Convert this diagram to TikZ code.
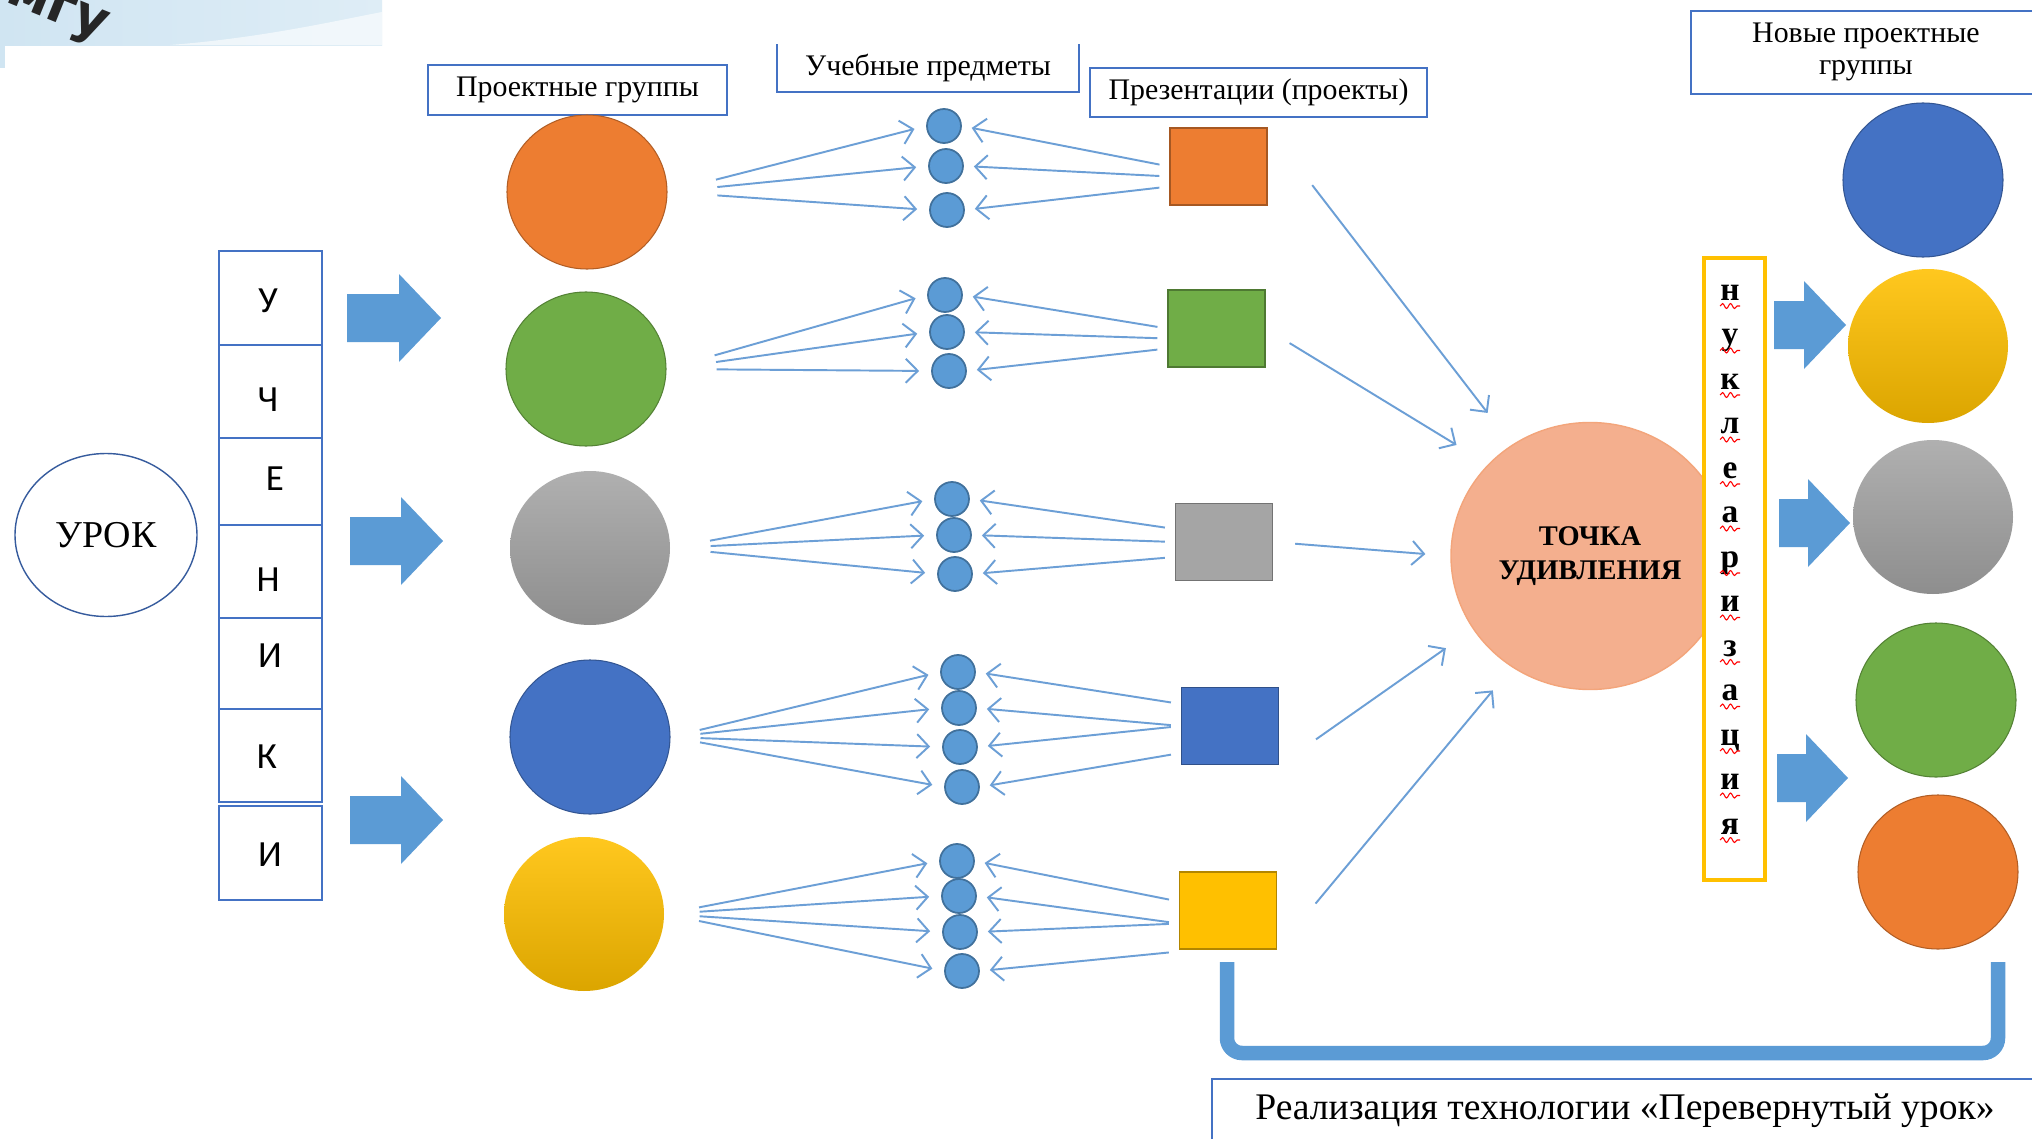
\documentclass[tikz,border=0pt]{standalone}
\usepackage{fontspec}
\setmainfont{Liberation Serif}
\newfontfamily\calibrifont{Carlito}
\newfontfamily\logofont{DejaVu Sans}
\usetikzlibrary{arrows.meta,shapes.geometric,decorations.pathmorphing}
\definecolor{boxblue}{HTML}{4472C4}
\definecolor{lineblue}{HTML}{6C9FD6}
\definecolor{dotblue}{HTML}{5B9BD5}
\definecolor{dotedge}{HTML}{41719C}
\definecolor{orangeg}{HTML}{ED7D31}
\definecolor{greeng}{HTML}{70AD47}
\definecolor{grayg}{HTML}{A5A5A5}
\definecolor{blueg}{HTML}{4472C4}
\definecolor{yellowg}{HTML}{FFC000}
\definecolor{salmon}{HTML}{F4AF8E}
\definecolor{bandblue}{HTML}{D0E5F2}
\tikzset{
  % project group bubbles
  grp/.style={ellipse,minimum width=16mm,minimum height=15.4mm,inner sep=0pt,
              fill=#1,draw=#1!75!black,line width=0.3pt},
  grpsh/.style={ellipse,minimum width=16mm,minimum height=15.4mm,inner sep=0pt,
                top color=#1!88!white,bottom color=#1!86!black,draw=none},
  % presentations
  pres/.style={rectangle,minimum width=9.7mm,minimum height=7.7mm,inner sep=0pt,
               fill=#1,draw=#1!70!black,line width=0.4pt},
  % subjects
  subj/.style={circle,minimum size=3.4mm,inner sep=0pt,fill=dotblue,draw=dotedge,
               line width=0.5pt},
  % header labels
  lbl/.style={draw=boxblue,line width=0.5pt,fill=white,inner sep=0pt,align=center,
              font=\fontsize{8.5}{9.1}\selectfont},
  % pupils column
  ubox/.style={draw=boxblue,line width=0.5pt,minimum width=10.3mm,inner sep=0pt},
  ulet/.style={font=\calibrifont\fontsize{10.5}{12}\selectfont,inner sep=0pt},
  % vertical word
  nlet/.style={font=\bfseries\fontsize{9.5}{11}\selectfont,inner sep=0pt,anchor=base},
  squig/.style={draw=red,line width=0.3pt,decorate,
                decoration={snake,amplitude=0.25mm,segment length=0.8mm}},
  % connectors
  fl/.style={-{Straight Barb[length=1.2mm,width=2.4mm]},draw=lineblue,line width=0.55pt},
  % block arrows
  pics/blockarrow/.style={code={
    \fill[dotblue] (0,-24) -- ({#1-42},-24) -- ({#1-42},-44) -- (#1,0)
                   -- ({#1-42},44) -- ({#1-42},24) -- (0,24) -- cycle;}}
}

\begin{document}
\begin{tikzpicture}[x=0.1mm,y=-0.1mm]
  \fill[white] (0,0) rectangle (2032,1139);
  \useasboundingbox (0,0) rectangle (2032,1139);

  % cropped header band
  \fill[left color=bandblue,right color=bandblue!70!white] (0,0) rectangle (382,45);
  \fill[white,opacity=0.6] (170,45) .. controls (260,38) and (330,22) .. (382,12) -- (382,45) -- cycle;
  \fill[bandblue] (0,45) rectangle (5,68);
  \begin{scope}
    \clip (0,0) rectangle (382,45);
    \node[font=\logofont\bfseries\fontsize{15}{15}\selectfont,text=black!85,rotate=-22,
          inner sep=0pt] (logo) at (56,13) {мгу};
  \end{scope}

  % header labels
  \node[lbl,minimum width=29.9mm,minimum height=5mm] (lblgroups) at (577.5,90) {Проектные группы};
  \node[lbl,draw=none,minimum width=30mm,minimum height=4.6mm] (lblsubj) at (928,68) {Учебные предметы};
  \draw[boxblue,line width=0.5pt] (lblsubj.north west) -- (lblsubj.south west)
    -- (lblsubj.south east) -- (lblsubj.north east);
  \node[lbl,minimum width=33.7mm,minimum height=4.9mm] (lblpres) at (1258.5,92.5) {Презентации (проекты)};
  \node[lbl,anchor=north west,minimum width=35mm,minimum height=8.3mm] (lblnew) at (1690,10)
    {Новые проектные\\группы};

  % lesson
  \node[ellipse,draw=boxblue!80!black,line width=0.4pt,minimum width=18.2mm,minimum height=16.3mm,
        inner sep=0pt,font=\fontsize{10.8}{12}\selectfont] (urok) at (106,535) {УРОК};

  % pupils column
  \foreach \i/\t/\b/\l/\lx/\ly in {1/251/345/У/268/301,2/345/438/Ч/268/400,3/438/525/Е/275/479,
      4/525/618/Н/268/580,5/618/709/И/270/656,6/709/802/К/267/757,7/806/900/И/270/855}{
    \node[ubox,minimum height={(\b-\t)*0.1mm}] (u\i) at (270.5,{(\t+\b)/2}) {};
    \node[ulet] (ul\i) at (\lx,\ly) {\l};
  }

  \pic at (347,318) {blockarrow=94};
  \pic at (350,541) {blockarrow=93};
  \pic at (350,820) {blockarrow=93};

  % project groups
  \node[grp=orangeg] (g1) at (587,192) {};
  \node[grp=greeng] (g2) at (586,369) {};
  \node[grpsh=grayg] (g3) at (590,548) {};
  \node[grp=blueg] (g4) at (590,737) {};
  \node[grpsh=yellowg] (g5) at (584,914) {};

  % subjects
  \foreach \r/\k/\x/\y in {1/1/944/126,1/2/946/166,1/3/947/210,
      2/1/945/295,2/2/947/332,2/3/949/371,
      3/1/952/499,3/2/954/535,3/3/955/574,
      4/1/958/672,4/2/959/708,4/3/960/747,4/4/962/787,
      5/1/957/861,5/2/959/896,5/3/960/932,5/4/962/971}
    \node[subj] (d\r-\k) at (\x,\y) {};

  % presentations
  \node[pres=orangeg] (p1) at (1218.5,166.5) {};
  \node[pres=greeng] (p2) at (1216.5,328.5) {};
  \node[pres=grayg] (p3) at (1224,542) {};
  \node[pres=blueg] (p4) at (1230,726) {};
  \node[pres=yellowg] (p5) at (1228,910.5) {};

  % groups -> subjects
  \foreach \r/\n/\s in {1/3/5,2/3/5,3/3/4,4/4/3,5/4/3.5}
    \foreach \k in {1,...,\n}
      \draw[fl,shorten <=\s mm,shorten >=1.2mm] (g\r.east) -- (d\r-\k.west);

  % presentations -> subjects
  \foreach \r/\k/\o in {1/1/0,1/2/-1,1/3/-2,2/1/0,2/2/-1,2/3/-2,3/1/1.3,3/2/0,3/3/-1.5,
      4/1/2.2,4/2/0,4/3/0,4/4/-2.7,5/1/0.9,5/2/-1.3,5/3/-1.3,5/4/-4.1}
    \draw[fl,shorten <=1mm,shorten >=1mm] ([yshift=\o mm]p\r.west) -- (d\r-\k.east);

  % point of surprise
  \node[ellipse,fill=salmon,draw=salmon!80!orangeg,line width=0.4pt,minimum width=27.8mm,
        minimum height=26.7mm,inner sep=0pt,align=center,
        font=\bfseries\fontsize{8.1}{9.7}\selectfont] (tochka) at (1590,556) {ТОЧКА\\УДИВЛЕНИЯ};

  \draw[fl,shorten <=7.3mm,shorten >=4mm] (p1.north east) -- (tochka.125);
  \draw[fl,shorten <=2.8mm,shorten >=3.7mm] (p2.east) -- (tochka.138);
  \draw[fl,shorten <=2.2mm,shorten >=2.5mm] (p3.east) -- (tochka.west);
  \draw[fl,shorten <=4.5mm,shorten >=3.3mm] (p4.south east) -- (tochka.212);
  \draw[fl,shorten <=6mm,shorten >=3mm] (p5.south east) -- (tochka.235);

  % vertical word
  \node[draw=yellowg,line width=0.9pt,fill=white,minimum width=6.1mm,minimum height=62.2mm,
        inner sep=0pt] (nbox) at (1734.5,569) {};
  \foreach \c [count=\i from 0] in {н,у,к,л,е,а,р,и,з,а,ц,и,я}{
    \node[nlet] (nl\i) at (1730,{300+44.5*\i}) {\c};
    \draw[squig] ([xshift=-1mm,yshift=-0.6mm]nl\i.base) -- ([xshift=1mm,yshift=-0.6mm]nl\i.base);
  }

  \pic at (1774,325) {blockarrow=72};
  \pic at (1779,523) {blockarrow=71};
  \pic at (1777,778) {blockarrow=71};

  % new project groups
  \node[grp=blueg] (n1) at (1923,180) {};
  \node[grpsh=yellowg] (n2) at (1928,346) {};
  \node[grpsh=grayg] (n3) at (1933,517) {};
  \node[grp=greeng] (n4) at (1936,700) {};
  \node[grp=orangeg] (n5) at (1938,872) {};

  % bracket + caption
  \draw[dotblue,line width=1.45mm,rounded corners=1.5mm] (1227,962) -- (1227,1053)
    -- (1998,1053) -- (1998,962);
  \node[draw=boxblue,line width=0.6pt,anchor=north west,minimum width=82.6mm,minimum height=6.4mm,
        inner sep=0pt,font=\fontsize{10.7}{12}\selectfont] (realiz) at (1211,1078)
    {Реализация технологии «Перевернутый урок»};
\end{tikzpicture}
\end{document}
